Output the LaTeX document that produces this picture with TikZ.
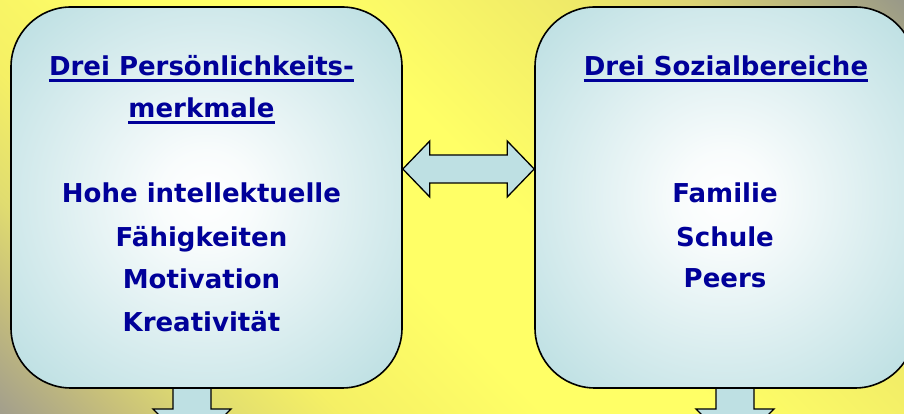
\documentclass[tikz,border=0pt]{standalone}
\usepackage{fontspec}
\setmainfont{DejaVu Sans}
\usetikzlibrary{calc}
\definecolor{bgyellow}{HTML}{FFFF66}
\definecolor{bgA}{HTML}{A39F8C}
\definecolor{bgB}{HTML}{C8C07A}
\definecolor{bgC}{HTML}{E0DC70}
\definecolor{bgD}{HTML}{F5F065}
\definecolor{bgE}{HTML}{EEE868}
\definecolor{bgF}{HTML}{DCD474}
\definecolor{bgG}{HTML}{999988}
\definecolor{boxcyan}{HTML}{BEE0E3}
\definecolor{txtblue}{HTML}{000099}
\pgfdeclarehorizontalshading{bgshade}{100bp}{color(0bp)=(bgA); color(14.6bp)=(bgA); color(21bp)=(bgB); color(26bp)=(bgC); color(33bp)=(bgD); color(44bp)=(bgyellow); color(53.5bp)=(bgyellow); color(68.4bp)=(bgE); color(74bp)=(bgF); color(85.4bp)=(bgG); color(100bp)=(bgG)}
\pgfdeclareradialshading{boxshade}{\pgfpoint{0bp}{0bp}}{color(0bp)=(white); color(6bp)=(white!90!boxcyan); color(33bp)=(boxcyan); color(50bp)=(boxcyan)}
\tikzset{
  bigbox/.style={draw=black, line width=1.6pt, rounded corners=60pt, shade, shading=boxshade, inner sep=0pt},
  txt/.style={font=\bfseries\fontsize{26}{30}\selectfont, text=txtblue, inner sep=0pt, anchor=base},
  uline/.style={draw=txtblue, line width=2.2pt},
  blockarrow/.style={draw=black, line width=1.3pt, fill=boxcyan, line join=miter}
}
\begin{document}
\begin{tikzpicture}[x=1pt,y=1pt]
\useasboundingbox (0,0) rectangle (904,414);
\begin{scope}
\clip (0,0) rectangle (904,414);
\shade[shading=bgshade, shading angle=45] (0,0) rectangle (904,414);
\path (206.5,216.5) coordinate (Lc) (725,216.5) coordinate (Rc);
% down arrows (behind boxes)
\coordinate (ldA) at (192,26);
\coordinate (rdA) at (735,26);
\draw[blockarrow] ($(ldA)+(-19,0)$) -- ($(ldA)+(-19,-21)$) -- ($(ldA)+(-39,-21)$) -- ($(ldA)+(0,-60)$) -- ($(ldA)+(39,-21)$) -- ($(ldA)+(19,-21)$) -- ($(ldA)+(19,0)$);
\draw[blockarrow] ($(rdA)+(-19,0)$) -- ($(rdA)+(-19,-21)$) -- ($(rdA)+(-39,-21)$) -- ($(rdA)+(0,-60)$) -- ($(rdA)+(39,-21)$) -- ($(rdA)+(19,-21)$) -- ($(rdA)+(19,0)$);
\node[bigbox, minimum width=391pt, minimum height=381pt] (L) at (Lc) {};
\node[bigbox, minimum width=380pt, minimum height=381pt] (R) at (Rc) {};
% double arrow between boxes
\coordinate (al) at ($(L.east)+(0,28.5)$);
\coordinate (ar) at ($(R.west)+(0,28.5)$);
\draw[blockarrow] (al) -- ++(27,28) -- ++(0,-14) -- ($(ar)+(-27,14)$) -- ++(0,14) -- (ar) -- ++(-27,-28) -- ++(0,14) -- ($(al)+(27,-14)$) -- ++(0,-14) -- cycle;
% left texts
\node[txt] (lt1) at (201.5,338) {Drei Persönlichkeits-};
\node[txt] (lt2) at (201.5,296) {merkmale};
\draw[uline] ($(lt1.base west)+(0,-4.5)$) -- ($(lt1.base east)+(0,-4.5)$);
\draw[uline] ($(lt2.base west)+(0,-4.5)$) -- ($(lt2.base east)+(0,-4.5)$);
\node[txt] (lb1) at (201.5,211) {Hohe intellektuelle};
\node[txt] (lb2) at (201.5,167) {Fähigkeiten};
\node[txt] (lb3) at (201.5,125) {Motivation};
\node[txt] (lb4) at (201.5,82) {Kreativität};
% right texts
\node[txt] (rt1) at (726,338) {Drei Sozialbereiche};
\draw[uline] ($(rt1.base west)+(0,-4.5)$) -- ($(rt1.base east)+(0,-4.5)$);
\node[txt] (rb1) at (725,211) {Familie};
\node[txt] (rb2) at (725,167) {Schule};
\node[txt] (rb3) at (725,126) {Peers};
\end{scope}
\end{tikzpicture}
\end{document}
